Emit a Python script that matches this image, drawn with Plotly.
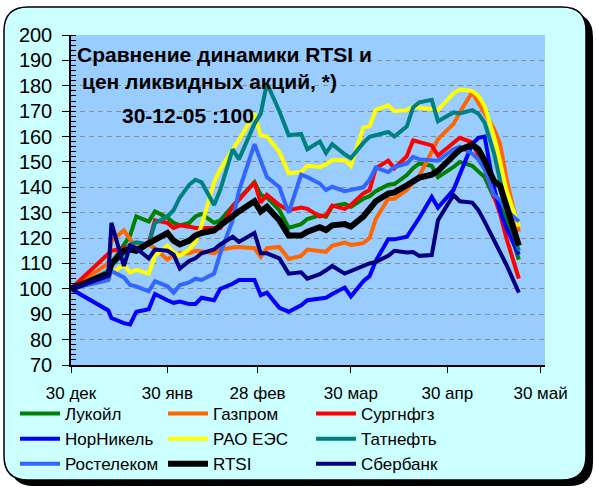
import plotly.graph_objects as go

dates = ['2005-12-30', '2006-01-11', '2006-01-12', '2006-01-16', '2006-01-18', '2006-01-20',
         '2006-01-24', '2006-01-26', '2006-01-30', '2006-02-01', '2006-02-03', '2006-02-06',
         '2006-02-08', '2006-02-10', '2006-02-14', '2006-02-16', '2006-02-20', '2006-02-22',
         '2006-02-27', '2006-03-01', '2006-03-03', '2006-03-07', '2006-03-10', '2006-03-14',
         '2006-03-16', '2006-03-20', '2006-03-22', '2006-03-24', '2006-03-28', '2006-03-30',
         '2006-04-03', '2006-04-05', '2006-04-07', '2006-04-11', '2006-04-13', '2006-04-17',
         '2006-04-19', '2006-04-21', '2006-04-25', '2006-04-27', '2006-05-02', '2006-05-04',
         '2006-05-08', '2006-05-10', '2006-05-12', '2006-05-15', '2006-05-17', '2006-05-19',
         '2006-05-23']

lukoil = [100, 106, 110, 117, 121, 128.5, 126.5, 130.5, 128, 126, 125, 126, 128.5, 129.5, 126, 127,
          133, 135.5, 142, 137, 136, 131, 124, 125.5, 127.5, 129, 128.4, 132.5, 133.5, 132.3, 135.5,
          136.5, 138.5, 141, 141.3, 144.8, 147.5, 149.4, 148.5, 144, 148, 150, 148.5, 146.5, 144,
          136, 133.8, 127, 111.5]
gazprom = [100, 110, 119, 123, 119.5, 116.5, 117.5, 116, 111.5, 113.5, 114, 114, 115, 114.8, 114,
           115.5, 116.3, 116.5, 116, 112.6, 116, 116.5, 111.8, 113, 115.5, 115, 114.6, 117, 118.2,
           117.3, 118, 120, 127.5, 135.5, 135.5, 139, 142, 144.5, 154, 159, 165, 169.5, 177.5,
           173.5, 169.5, 163, 157, 143.5, 122.5]
surgut = [100, 114, 115, 116, 117, 115, 118, 127, 126, 124, 125, 124.5, 124, 124, 124, 124, 132.5,
          135, 142, 134, 137, 133, 131, 132, 131.5, 128.5, 129, 132.8, 131.5, 133, 137.6, 138.9,
          147.5, 150.5, 147.5, 152.3, 158.5, 157.7, 156.5, 152.5, 157.5, 159.5, 157.7, 153, 147.5,
          136.5, 129.5, 120, 104]
nornickel = [100, 91.5, 88.5, 86.5, 86, 91, 92, 98, 95.5, 94.5, 95, 94, 94, 96.5, 95.5, 100, 102,
             103.5, 103.5, 97.5, 98.5, 92.5, 91, 93.5, 95.5, 96, 96.5, 98, 100.5, 97, 103, 105, 111,
             119.5, 119.5, 120.5, 124, 128, 136.2, 132, 139, 145, 157, 159.5, 160, 140, 130.5, 124,
             113.5]
rao = [100, 104.5, 106, 109.5, 106.5, 107.5, 106, 113, 117, 114.5, 113, 115.5, 118.5, 125, 142, 147,
       155, 158.6, 169, 160.5, 160, 154, 145.5, 146, 148.5, 148, 149, 150.7, 150.7, 148.5, 163.5,
       164, 170.5, 172.3, 170, 170.4, 171.7, 171.5, 171, 170.5, 177, 178.5, 178, 176, 172, 160,
       150, 139, 124.5]
tatneft = [100, 107, 109, 114, 117.5, 118.3, 117.5, 126, 128.5, 131, 136, 141, 143, 142, 133, 139,
           155, 151, 165, 169, 181, 170, 160.5, 161, 155, 158, 153.5, 157, 153, 151.5, 157.5, 159.9,
           160.5, 161.8, 160, 164, 171.5, 173.5, 174.5, 166, 169.5, 169.1, 170.4, 169, 165.5, 153.5,
           142.5, 131, 115]
rostelecom = [100, 103.5, 107, 104.5, 101.5, 101, 99, 103, 101, 98.5, 101.5, 102.5, 104, 103.5, 106,
              114, 127, 138.5, 157, 151, 144, 140, 130, 145, 144, 141.5, 138.9, 140.2, 138.5, 139,
              140, 143, 147.8, 146, 148, 149.4, 152, 151, 150.7, 150.5, 155, 156, 153.3, 151, 147,
              137, 135, 131, 126.5]
rtsi = [100, 106, 110, 115, 115.5, 115, 118, 119.5, 122, 119, 117.5, 119, 121, 122, 123, 125, 129,
        130.5, 134.5, 130.5, 132.3, 127, 121, 121, 122.5, 124.3, 123.2, 125, 125.5, 124.5, 128.5,
        131.5, 134.5, 137.5, 138, 140.8, 142.3, 143.8, 145, 146.5, 152.5, 154.8, 156.8, 155, 150.5,
        142.5, 140.5, 133, 117]
sberbank = [100, 105, 126, 109, 117, 116, 112, 115.5, 115, 113.5, 108, 111, 112, 114, 115.5, 117.5,
            120.5, 118.5, 122, 114, 114, 112, 106, 106.5, 104, 105.8, 107.3, 109, 106, 107, 109.3,
            110, 110.6, 113, 115, 114.3, 114.5, 113, 113.3, 127, 137, 134.5, 134, 131, 126.5, 119,
            114, 109.5, 98.5]

names = ['Лукойл', 'Газпром', 'Сургнфгз', 'НорНикель', 'РАО ЕЭС', 'Татнефть',
         'Ростелеком', 'RTSI', 'Сбербанк']
series = [lukoil, gazprom, surgut, nornickel, rao, tatneft, rostelecom, rtsi, sberbank]
colors = ['#008000', '#FF6600', '#FF0000', '#0000FF', '#FFFF00', '#008080',
          '#3366FF', '#000000', '#000080']

tick_dates = ['2005-12-30', '2006-01-30', '2006-02-28', '2006-03-30', '2006-04-30', '2006-05-30']
tick_text = ['30 дек', '30 янв', '28 фев', '30 мар', '30 апр', '30 май']

FONT = 'Liberation Sans, Arial, sans-serif'
W, H = 596, 488
L, R, T, B = 71, 545, 35, 365  # plot area in pixels


def px(x):
    return (x - L) / (R - L)


def py(y):
    return (B - y) / (B - T)


def rounded(x0, y0, x1, y1, r):
    pts = [
        ('M', [(x0 + r, y0)]), ('L', [(x1 - r, y0)]), ('Q', [(x1, y0), (x1, y0 + r)]),
        ('L', [(x1, y1 - r)]), ('Q', [(x1, y1), (x1 - r, y1)]), ('L', [(x0 + r, y1)]),
        ('Q', [(x0, y1), (x0, y1 - r)]), ('L', [(x0, y0 + r)]), ('Q', [(x0, y0), (x0 + r, y0)]),
    ]
    out = ''
    for cmd, ps in pts:
        out += cmd + ' '.join(f'{px(a):.5f},{py(b):.5f}' for a, b in ps) + ' '
    return out + 'Z'


fig = go.Figure()
for name, vals, col in zip(names, series, colors):
    fig.add_trace(go.Scatter(
        x=dates, y=vals, name=name, mode='lines',
        line=dict(color=col, width=6 if name == 'RTSI' else 4),
    ))

shapes = [
    dict(type='path', xref='paper', yref='paper', path=rounded(10, 13, 593, 486, 24),
         fillcolor='black', line=dict(width=0), layer='below'),
    dict(type='path', xref='paper', yref='paper', path=rounded(4, 7, 586, 480, 24),
         fillcolor='#CCFFFF', line=dict(color='black', width=1.5), layer='below'),
    dict(type='rect', xref='paper', yref='paper', x0=0, x1=1, y0=0, y1=1,
         fillcolor='#99CCFF', line=dict(width=0), layer='below'),
]

titles = [
    ('Сравнение динамики RTSI и', 75, 54),
    ('цен ликвидных акций, *)', 80, 81),
    ('30-12-05 :100', 120, 115),
]
annotations = [
    dict(text=f'<b>{t}</b>', x=px(x), y=py(y), xref='paper', yref='paper',
         xanchor='left', yanchor='middle', showarrow=False,
         font=dict(family=FONT, size=21, color='black'))
    for t, x, y in titles
]

fig.update_layout(
    width=W, height=H,
    margin=dict(l=L, r=W - R, t=T, b=H - B, pad=0, autoexpand=False),
    paper_bgcolor='white', plot_bgcolor='rgba(0,0,0,0)',
    font=dict(family=FONT, color='black'),
    shapes=shapes, annotations=annotations,
    xaxis=dict(
        type='date', range=['2005-12-30', '2006-05-31 10:00'],
        tickvals=tick_dates, ticktext=tick_text,
        ticks='outside', ticklen=6, tickcolor='black', tickwidth=1,
        showline=True, linecolor='black', linewidth=1.5,
        showgrid=False, zeroline=False, automargin=False,
        tickfont=dict(size=17), ticklabelstandoff=6,
    ),
    yaxis=dict(
        range=[70, 200], tick0=70, dtick=10,
        ticks='outside', ticklen=7, tickcolor='black', tickwidth=1,
        showline=True, linecolor='black', linewidth=1.5,
        showgrid=True, gridcolor='#8C8C8C', gridwidth=1, griddash='5px,4px',
        zeroline=False, automargin=False, tickfont=dict(size=20), ticklabelstandoff=6,
        minor=dict(dtick=2, ticks='inside', ticklen=5, tickcolor='black', showgrid=False),
    ),
    showlegend=True,
    legend=dict(
        orientation='h', xref='container', yref='container',
        x=15 / W, y=1 - 396 / H, xanchor='left', yanchor='top',
        entrywidth=93, entrywidthmode='pixels', itemwidth=40,
        font=dict(size=17), bgcolor='rgba(0,0,0,0)', traceorder='normal',
        tracegroupgap=0,
    ),
)

# the page's default body margin would shift the figure by 8px
fig.write_html('out.html', config={'displayModeBar': False},
               post_script="document.body.style.margin='0';")
